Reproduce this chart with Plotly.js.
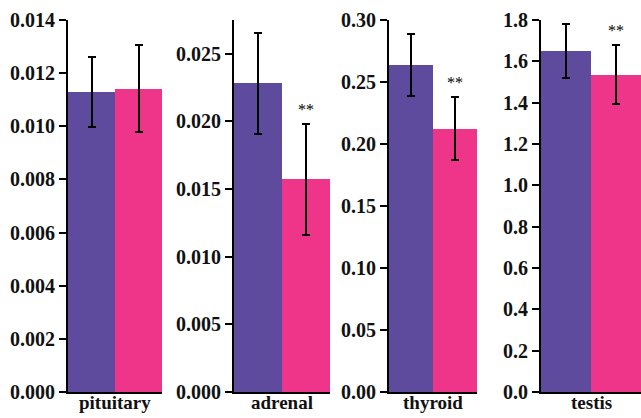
<!DOCTYPE html>
<html>
<head>
<meta charset="utf-8">
<script src="https://cdn.plot.ly/plotly-3.0.1.min.js"></script>
<style>
html,body{margin:0;padding:0;background:#fff;}
#chart{width:641px;height:418px;}
</style>
</head>
<body>
<div id="chart"></div>
<script>
// Data
const tissues = ['pituitary', 'adrenal', 'thyroid', 'testis'];
const groupA = [0.01129, 0.02282, 0.2639, 1.650];   // purple
const groupB = [0.01142, 0.01572, 0.2122, 1.536];   // pink
const errA = [0.00130, 0.00375, 0.0252, 0.131];
const errB = [0.00165, 0.00410, 0.0255, 0.144];
const sigB = ['', '**', '**', '**'];
const yMax = [0.014, 0.0275, 0.30, 1.8];
const yDtick = [0.002, 0.005, 0.05, 0.2];
const yFormat = ['.3f', '.3f', '.2f', '.1f'];

const W = 641;
const domainsPx = [[68, 162], [234, 330], [389, 477], [541, 641]];
const purple = '#5e4b9d';
const pink = '#ee358a';
const fontFam = 'Liberation Serif';

const traces = [];
const layout = {
  width: 641, height: 418,
  margin: {l: 0, r: 0, t: 20, b: 26},
  paper_bgcolor: '#fff', plot_bgcolor: '#fff',
  showlegend: false,
  bargap: 0,
  font: {family: fontFam},
  annotations: []
};

tissues.forEach((t, i) => {
  const n = i === 0 ? '' : String(i + 1);
  const xa = 'x' + n, ya = 'y' + n;
  traces.push({
    type: 'bar', x: [0, 1], y: [groupA[i], groupB[i]],
    xaxis: xa, yaxis: ya,
    width: [1, 1],
    marker: {color: [purple, pink]},
    error_y: {type: 'data', array: [errA[i], errB[i]], visible: true, color: '#000', thickness: 2, width: 4},
    hoverinfo: 'skip'
  });
  layout['xaxis' + n] = {
    domain: [domainsPx[i][0] / W, domainsPx[i][1] / W],
    range: [-0.5, 1.5],
    anchor: ya,
    showline: true, linecolor: '#000', linewidth: 2,
    showticklabels: false, ticks: '', showgrid: false, zeroline: false,
    fixedrange: true
  };
  layout['yaxis' + n] = {
    range: [0, yMax[i]],
    anchor: xa,
    dtick: yDtick[i], tick0: 0,
    tickformat: yFormat[i],
    showline: true, linecolor: '#000', linewidth: 2,
    ticks: 'outside', ticklen: 7, tickwidth: 2, tickcolor: '#000',
    tickfont: {family: fontFam, size: 20, color: '#111', weight: 'bold'},
    showgrid: false, zeroline: false, fixedrange: true
  };
  layout.annotations.push({
    xref: xa + ' domain', yref: 'paper', x: 0.5, y: 0,
    yanchor: 'top', yshift: 1, showarrow: false, borderpad: 0,
    text: t, font: {family: fontFam, size: 19, color: '#111', weight: 'bold'}
  });
  if (sigB[i]) {
    layout.annotations.push({
      xref: xa, yref: ya, x: 1, y: groupB[i] + errB[i],
      yanchor: 'bottom', yshift: 4, showarrow: false,
      text: sigB[i], font: {family: fontFam, size: 16, color: '#000'}
    });
  }
});

Plotly.newPlot('chart', traces, layout, {displayModeBar: false, staticPlot: true});
</script>
</body>
</html>
